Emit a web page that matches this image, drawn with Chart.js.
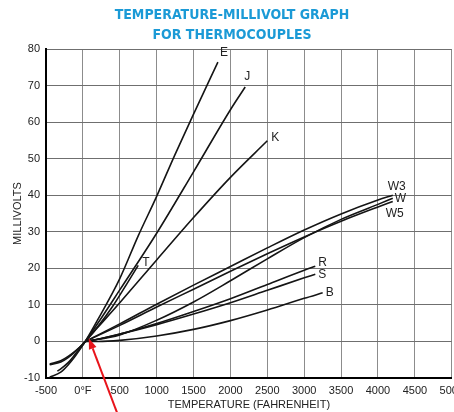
<!DOCTYPE html>
<html>
<head>
<meta charset="utf-8">
<script src="https://cdn.jsdelivr.net/npm/chart.js@4.4.1/dist/chart.umd.min.js"></script>
<style>
  html, body { margin: 0; padding: 0; background: #fff; overflow: hidden; }
  #wrap { width: 470px; height: 412px; }
</style>
</head>
<body>
<div id="wrap"><canvas id="chart" width="470" height="412"></canvas></div>
<script>
// Curve data: temperature (°F) and output (mV)
const tempE = [-450, -300, -200, -100, 0, 32, 200, 500, 750, 1000, 1250, 1500, 1830];
const mvE   = [-9.8, -8.4, -6.4, -3.9, -1.0, 0, 5.9, 17.2, 28.9, 39.7, 51.2, 62.2, 76.4];

const tempJ = [-346, -300, -200, -100, 0, 32, 200, 500, 1000, 1500, 2000, 2200];
const mvJ   = [-8.1, -7.5, -5.8, -3.4, -0.9, 0, 4.9, 14.1, 29.6, 46.4, 63.4, 69.6];

const tempK = [-450, -300, -200, -100, 0, 32, 200, 500, 1000, 1500, 2000, 2500];
const mvK   = [-6.4, -5.6, -4.4, -2.7, -0.7, 0, 3.8, 10.6, 22.3, 33.9, 44.9, 54.9];

const tempT = [-450, -300, -200, -100, 0, 32, 200, 400, 600, 750];
const mvT   = [-6.2, -5.3, -4.1, -2.6, -0.7, 0, 4.0, 9.5, 15.9, 20.8];

const tempW = [32, 500, 1000, 1500, 2000, 2500, 3000, 3500, 4000, 4200];
const mvW3  = [0, 4.8, 10.2, 15.4, 20.5, 25.6, 30.5, 34.9, 38.7, 40.0];
const mvW   = [0, 1.8, 5.8, 10.8, 16.6, 22.6, 28.4, 33.4, 37.5, 39.2];
const mvW5  = [0, 4.4, 9.4, 14.3, 19.2, 24.0, 28.6, 32.9, 36.8, 38.3];

const tempRS = [32, 200, 500, 1000, 1500, 2000, 2500, 3000, 3150];
const mvR    = [0, 0.6, 2.0, 4.9, 8.2, 11.7, 15.6, 19.5, 20.6];
const mvS    = [0, 0.6, 2.0, 4.6, 7.5, 10.6, 14.0, 17.4, 18.4];

const tempB = [32, 200, 500, 1000, 1500, 2000, 2500, 3000, 3250];
const mvB   = [0, 0.0, 0.3, 1.5, 3.3, 5.7, 8.6, 11.8, 13.3];

// Axis ticks
const xMin = -500, xMax = 5000, xStep = 500;
const yMin = -10, yMax = 80, yStep = 10;

const FONT = '"Liberation Sans", Arial, sans-serif';

const mkSet = (name, temps, mv) => ({
    label: name,
    data: temps.map((t, i) => ({ x: t, y: mv[i] })),
    borderColor: '#151515',
    borderWidth: 1.6,
    pointRadius: 0,
    fill: false,
    cubicInterpolationMode: 'monotone'
});

// Label offsets from each curve's last point (px)
const labelOffsets = {
    E: [2, -10], J: [-1, -10], K: [4, -3], T: [4, -3],
    W3: [-5, -9], W: [2, 1], W5: [-7, 12],
    R: [3, -3], S: [3, 0], B: [3, 0]
};

const curveLabels = {
    id: 'curveLabels',
    afterDatasetsDraw(chart) {
        const { ctx, scales: { x, y } } = chart;
        ctx.save();
        ctx.font = '12px ' + FONT;
        ctx.fillStyle = '#222';
        ctx.textBaseline = 'middle';
        ctx.textAlign = 'left';
        chart.data.datasets.forEach(ds => {
            const last = ds.data[ds.data.length - 1];
            const off = labelOffsets[ds.label];
            ctx.fillText(ds.label, x.getPixelForValue(last.x) + off[0], y.getPixelForValue(last.y) + off[1]);
        });
        ctx.restore();
    }
};

// Red pointer to the 32°F reference point
const arrowPlugin = {
    id: 'arrow',
    afterDraw(chart) {
        const { ctx, scales: { x, y } } = chart;
        const tx = x.getPixelForValue(80), ty = y.getPixelForValue(0.9);
        const sx = x.getPixelForValue(470), sy = chart.height + 2;
        const ang = Math.atan2(ty - sy, tx - sx);
        const len = 11, half = 4;
        const bx = tx - Math.cos(ang) * len, by = ty - Math.sin(ang) * len;
        ctx.save();
        ctx.strokeStyle = '#e8141b';
        ctx.fillStyle = '#e8141b';
        ctx.lineWidth = 2;
        ctx.beginPath();
        ctx.moveTo(sx, sy);
        ctx.lineTo(bx, by);
        ctx.stroke();
        ctx.beginPath();
        ctx.moveTo(tx, ty);
        ctx.lineTo(bx + Math.sin(ang) * half, by - Math.cos(ang) * half);
        ctx.lineTo(bx - Math.sin(ang) * half, by + Math.cos(ang) * half);
        ctx.closePath();
        ctx.fill();
        ctx.restore();
    }
};

new Chart(document.getElementById('chart'), {
    type: 'line',
    data: {
        datasets: [
            mkSet('E', tempE, mvE),
            mkSet('J', tempJ, mvJ),
            mkSet('K', tempK, mvK),
            mkSet('T', tempT, mvT),
            mkSet('W3', tempW, mvW3),
            mkSet('W', tempW, mvW),
            mkSet('W5', tempW, mvW5),
            mkSet('R', tempRS, mvR),
            mkSet('S', tempRS, mvS),
            mkSet('B', tempB, mvB)
        ]
    },
    options: {
        responsive: false,
        animation: false,
        layout: { padding: { left: 10, right: 16, top: 0, bottom: 0 } },
        plugins: {
            legend: { display: false },
            tooltip: { enabled: false },
            title: {
                display: true,
                text: ['TEMPERATURE-MILLIVOLT GRAPH', 'FOR THERMOCOUPLES'],
                color: '#1b9ad6',
                font: { family: '"Liberation Sans Narrow", "DejaVu Sans Condensed", ' + FONT, size: 14, weight: 'bold', lineHeight: 1.43 },
                padding: { top: 5, bottom: 4 }
            }
        },
        scales: {
            x: {
                type: 'linear',
                min: xMin,
                max: xMax,
                afterFit: s => { s.height = 34; },
                ticks: {
                    stepSize: xStep,
                    autoSkip: false,
                    maxRotation: 0,
                    padding: 6,
                    color: '#222',
                    font: { family: FONT, size: 11 },
                    callback: v => v === 0 ? '0°F' : v
                },
                grid: { color: '#8c8c8c', lineWidth: 1, drawTicks: false },
                border: { color: '#000', width: 2 },
                title: {
                    display: true,
                    text: 'TEMPERATURE (FAHRENHEIT)',
                    color: '#222',
                    font: { family: FONT, size: 11 },
                    padding: { top: 0, bottom: 0 }
                }
            },
            y: {
                min: yMin,
                max: yMax,
                afterFit: s => { s.width = 36; },
                ticks: {
                    stepSize: yStep,
                    padding: 6,
                    color: '#222',
                    font: { family: FONT, size: 11 }
                },
                grid: { color: '#6f6f6f', lineWidth: 1, drawTicks: false },
                border: { color: '#000', width: 2 },
                title: {
                    display: true,
                    text: 'MILLIVOLTS',
                    color: '#222',
                    font: { family: FONT, size: 11 },
                    padding: { top: 1, bottom: 0 }
                }
            }
        }
    },
    plugins: [curveLabels, arrowPlugin]
});
</script>
</body>
</html>
